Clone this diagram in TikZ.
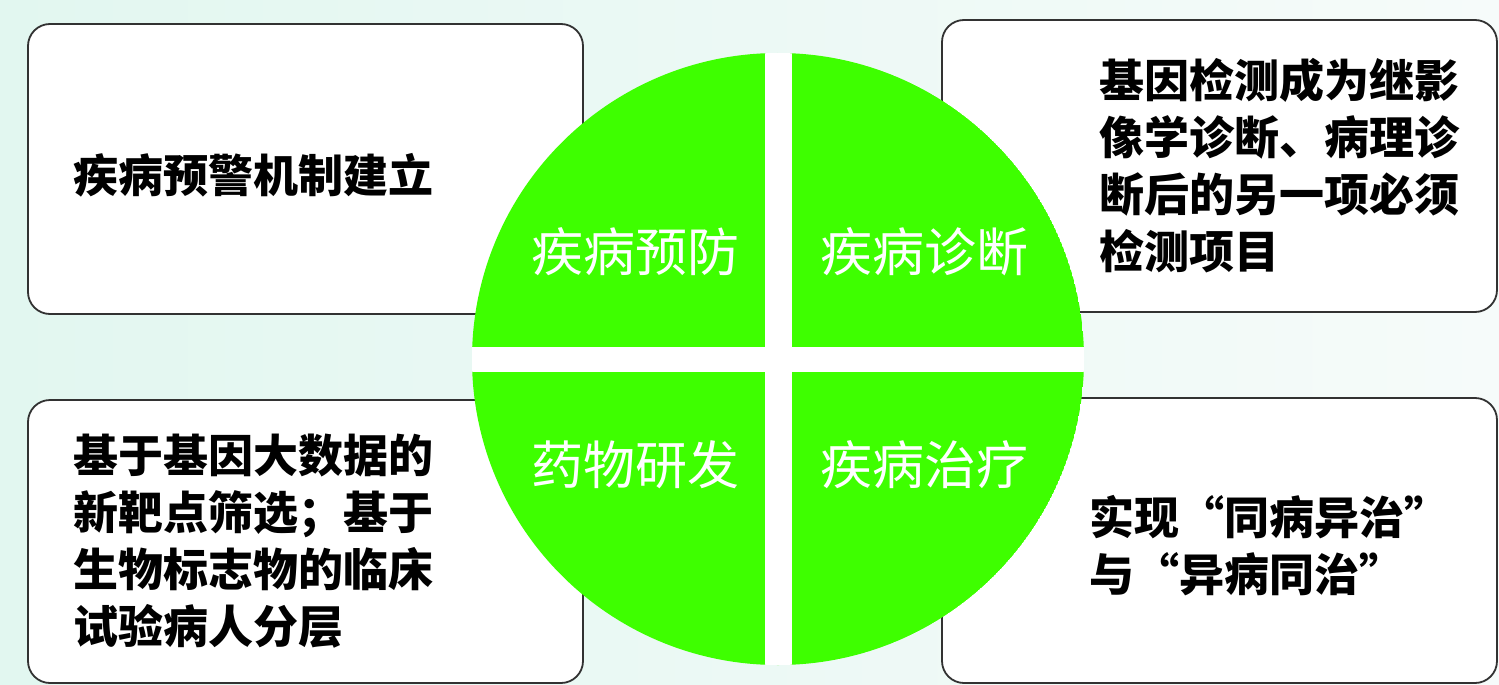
\documentclass[tikz,border=0pt]{standalone}
\usepackage{fontspec}
\setmainfont{Noto Sans CJK SC}
\usepackage{xcolor}
\usetikzlibrary{positioning}
\definecolor{bgleft}{RGB}{226,247,240}
\definecolor{bgright}{RGB}{246,251,250}
\definecolor{leaf}{RGB}{62,255,0}
\definecolor{edge}{RGB}{50,50,50}

\begin{document}
\begin{tikzpicture}[x=1pt, y=-1pt,
    box/.style={draw=edge, line width=1.8pt, fill=white, rounded corners=22pt,
        minimum width=555pt, inner sep=0pt, outer sep=0pt},
    desc/.style={font=\fontsize{45}{57}\selectfont\bfseries, align=left, inner sep=0pt},
    tag/.style={font=\fontsize{52}{60}\selectfont, text=white, inner sep=0pt}]
    % Draw background
    \useasboundingbox (0,0) rectangle (1499,685);
    \shade[left color=bgleft, right color=bgright] (0,0) rectangle (1499,685);

    % Draw boxes
    \node[box, minimum height=290pt] (tl) at (305.5,169) {};
    \node[box, minimum height=292pt] (tr) at (1219.5,166) {};
    \node[box, minimum height=283pt] (bl) at (305.5,541.5) {};
    \node[box, minimum height=285pt] (br) at (1219.5,540.5) {};

    % Draw circle with white cross
    \coordinate (c) at (778,359);
    \begin{scope}
        \clip (c) circle (306);
        \fill[leaf] (c) circle (306);
        \fill[white] (765,0) rectangle (792,685);
        \fill[white] (400,347) rectangle (1200,372);
    \end{scope}

    % Draw circle labels
    \node[tag] (prevent) at (635,252) {疾病预防};
    \node[tag] (diagnose) at (924,252) {疾病诊断};
    \node[tag] (drug) at (635,465) {药物研发};
    \node[tag] (treat) at (924,465) {疾病治疗};

    % Draw box texts
    \node[desc, right=45pt of tl.west, yshift=-6pt] (tltext) {疾病预警机制建立};
    \node[desc, right=157pt of tr.west] (trtext) {基因检测成为继影\\像学诊断、病理诊\\断后的另一项必须\\检测项目};
    \node[desc, right=45pt of bl.west] (bltext) {基于基因大数据的\\新靶点筛选；基于\\生物标志物的临床\\试验病人分层};
    \node[desc, right=147pt of br.west, yshift=-5pt] (brtext) {实现“同病异治”\\与“异病同治”};
\end{tikzpicture}
\end{document}
